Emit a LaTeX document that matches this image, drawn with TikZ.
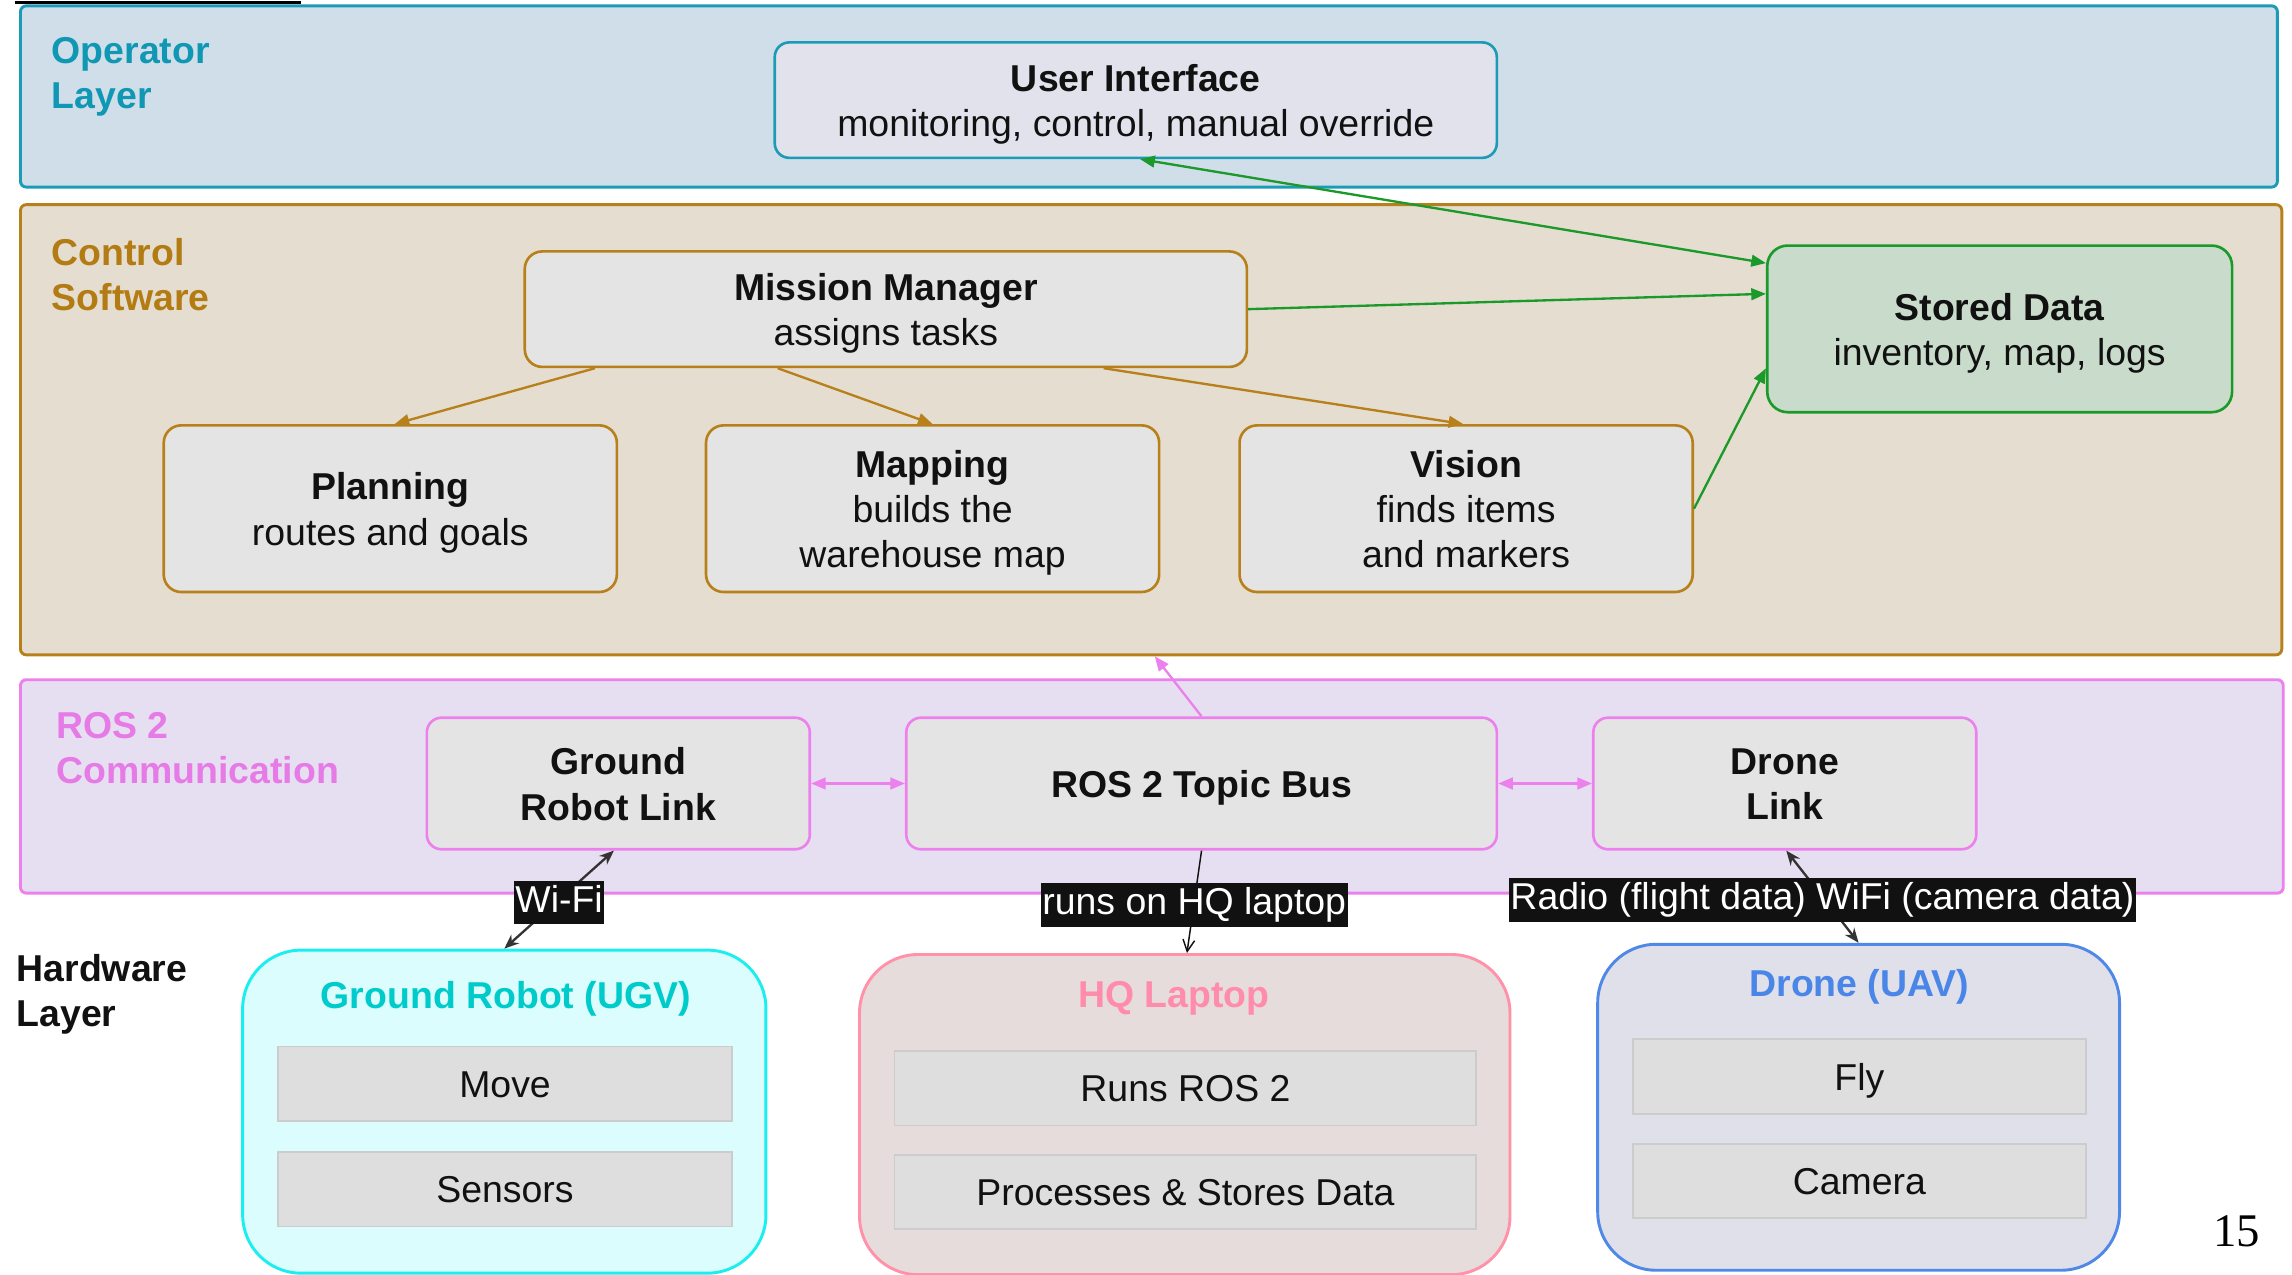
\documentclass[tikz,border=0pt]{standalone}
\usepackage{fontspec}
\setmainfont{Liberation Sans}
\newfontfamily\pnfont{Liberation Serif}
\usetikzlibrary{arrows.meta,calc}
\definecolor{opfill}{HTML}{D0DEEA}
\definecolor{opdraw}{HTML}{1B9BB6}
\definecolor{optext}{HTML}{1097B3}
\definecolor{uifill}{HTML}{E2E2EC}
\definecolor{ctfill}{HTML}{E5DDD0}
\definecolor{ctdraw}{HTML}{B8801A}
\definecolor{cttext}{HTML}{B27C13}
\definecolor{boxgray}{HTML}{E4E4E4}
\definecolor{stfill}{HTML}{C9DCCB}
\definecolor{stdraw}{HTML}{1B9A2B}
\definecolor{rsfill}{HTML}{E6DFF1}
\definecolor{rsdraw}{HTML}{EC80EC}
\definecolor{rstext}{HTML}{E67AE6}
\definecolor{ugvfill}{HTML}{DCFDFD}
\definecolor{ugvdraw}{HTML}{1AEEEE}
\definecolor{ugvtext}{HTML}{00CBCB}
\definecolor{hqfill}{HTML}{E6DCDC}
\definecolor{hqdraw}{HTML}{FF91A8}
\definecolor{hqtext}{HTML}{FF8CAA}
\definecolor{uavfill}{HTML}{DFE0EA}
\definecolor{uavdraw}{HTML}{4F88E6}
\definecolor{uavtext}{HTML}{4A86E8}
\definecolor{subfill}{HTML}{DEDEDE}
\definecolor{subdraw}{HTML}{CCCCCC}
\definecolor{ink}{HTML}{111111}
\definecolor{linkgray}{HTML}{333333}
\begin{document}
\begin{tikzpicture}[x=0.5pt,y=-0.5pt,
  font=\fontsize{12.8}{15.5}\selectfont, text=ink,
  layer/.style={draw, rounded corners=2pt, line width=1pt, inner sep=0pt},
  cbox/.style={draw, rounded corners=6pt, line width=0.9pt, fill=boxgray, inner sep=0pt},
  tx/.style={label={[align=center, inner sep=0pt, text=ink, text depth=2.8pt, yshift=-1.5pt, font=\fontsize{12.8}{15.5}\selectfont]center:#1}},
  btx/.style={label={[align=center, inner sep=0pt, text=ink, text depth=2.8pt, yshift=-1.5pt, font=\fontsize{12.8}{15.5}\selectfont\bfseries]center:#1}},
  subbox/.style={draw=subdraw, fill=subfill, line width=0.6pt, inner sep=0pt, minimum height=25.5pt, text height=12pt, text depth=2.8pt},
  hwbox/.style={draw, rounded corners=20pt, line width=1pt, inner sep=0pt},
  laylbl/.style={font=\fontsize{12.8}{15.5}\selectfont\bfseries, align=left, anchor=west, inner sep=0pt, text depth=2.8pt},
  hwtitle/.style={font=\fontsize{12.8}{15.5}\selectfont\bfseries, inner sep=0pt},
  edgelbl/.style={fill=ink, text=white, inner xsep=0.5pt, inner ysep=1.3pt, text height=9.6pt, text depth=2.8pt, yshift=-1pt},
  arr/.style={-{Triangle[length=5pt,width=4pt]}, line width=0.8pt},
  darr/.style={{Triangle[length=5pt,width=4pt]}-{Triangle[length=5pt,width=4pt]}, line width=0.8pt},
  hlink/.style={{Stealth[length=5pt,width=4pt]}-{Stealth[length=5pt,width=4pt]}, line width=0.8pt, draw=linkgray}
]
\useasboundingbox (0,0) rectangle (1568,872);
\draw[line width=1pt] (10,2) -- (206,2);

% layers
\node[layer, draw=opdraw, fill=opfill, minimum width=772pt, minimum height=62pt] (op) at (786,66) {};
\node[layer, draw=ctdraw, fill=ctfill, minimum width=773.5pt, minimum height=154pt] (ctrl) at (787.5,294) {};
\node[layer, draw=rsdraw, fill=rsfill, minimum width=774pt, minimum height=73pt] (ros) at (788,538) {};

\node[laylbl, text=optext] (oplbl) at (35,52.5) {Operator\\Layer};
\node[laylbl, text=cttext] (ctlbl) at (35,190.5) {Control\\Software};
\node[laylbl, text=rstext] (rslbl) at (38,514.5) {ROS 2\\Communication};
\node[laylbl, text=ink] (hwlbl) at (11,680.5) {Hardware\\Layer};

% operator
\node[cbox, draw=opdraw, fill=uifill, rounded corners=5pt, minimum width=247pt, minimum height=39.5pt,
  btx={User Interface\\\mdseries monitoring, control, manual override}] (ui) at (777,68.5) {};

% control
\node[cbox, draw=ctdraw, minimum width=247pt, minimum height=39.5pt,
  btx={Mission Manager\\\mdseries assigns tasks}] (mm) at (606,211.5) {};
\node[cbox, draw=ctdraw, minimum width=155pt, minimum height=57pt,
  btx={Planning\\\mdseries routes and goals}] (plan) at (267,348) {};
\node[cbox, draw=ctdraw, minimum width=155pt, minimum height=57pt,
  btx={Mapping\\\mdseries builds the\\\mdseries warehouse map}] (map) at (638,348) {};
\node[cbox, draw=ctdraw, minimum width=155pt, minimum height=57pt,
  btx={Vision\\\mdseries finds items\\\mdseries and markers}] (vis) at (1003,348) {};
\node[cbox, draw=stdraw, fill=stfill, rounded corners=7pt, minimum width=159pt, minimum height=57pt,
  btx={Stored Data\\\mdseries inventory, map, logs}] (stored) at (1368,225) {};

% ros
\node[cbox, draw=rsdraw, rounded corners=5pt, minimum width=131pt, minimum height=45pt,
  btx={Ground\\Robot Link}] (grl) at (423,536) {};
\node[cbox, draw=rsdraw, rounded corners=5pt, minimum width=202pt, minimum height=45pt,
  btx={ROS 2 Topic Bus}] (bus) at (822,536) {};
\node[cbox, draw=rsdraw, rounded corners=5pt, minimum width=131pt, minimum height=45pt,
  btx={Drone\\Link}] (dl) at (1221,536) {};

% hardware
\node[hwbox, draw=ugvdraw, fill=ugvfill, minimum width=179pt, minimum height=110.5pt] (ugv) at (345,760.5) {};
\node[hwbox, draw=hqdraw, fill=hqfill, minimum width=222.5pt, minimum height=109.5pt] (hq) at (810.5,762.5) {};
\node[hwbox, draw=uavdraw, fill=uavfill, minimum width=178.5pt, minimum height=111.5pt] (uav) at (1271.5,757.5) {};

\node[hwtitle, text=ugvtext] (ugvt) at (346,683) {Ground Robot (UGV)};
\node[hwtitle, text=hqtext] (hqt) at (803,683) {HQ Laptop};
\node[hwtitle, text=uavtext] (uavt) at (1272,675) {Drone (UAV)};

\node[subbox, minimum width=155.5pt] (move) at (345.5,741.5) {Move};
\node[subbox, minimum width=155.5pt] (sens) at (345.5,813.5) {Sensors};
\node[subbox, minimum width=199pt] (runs) at (811,744.5) {Runs ROS 2};
\node[subbox, minimum width=199pt] (proc) at (811,815.5) {Processes \& Stores Data};
\node[subbox, minimum width=155pt] (fly) at (1272,736.5) {Fly};
\node[subbox, minimum width=155pt] (cam) at (1272,808) {Camera};

\node[font=\pnfont\fontsize{16}{18}\selectfont, text=black, inner sep=0pt] (pg) at (1530,842) {15};

% control arrows
\draw[arr, draw=ctdraw] ($(mm.south)+(-199,0)$) -- ($(plan.north)+(3,0)$);
\draw[arr, draw=ctdraw] ($(mm.south)+(-74,0)$) -- (map.north);
\draw[arr, draw=ctdraw] ($(mm.south)+(149,0)$) -- ($(vis.north)+(-2,0)$);
\draw[arr, draw=stdraw] (mm.east) -- ($(stored.west)+(0,-24)$);
\draw[darr, draw=stdraw] ($(ui.south)+(3,0)$) -- ($(stored.west)+(0,-45)$);
\draw[arr, draw=stdraw] (vis.east) -- ($(stored.west)+(0,27)$);

% ros arrows
\draw[darr, draw=rsdraw] (grl.east) -- (bus.west);
\draw[darr, draw=rsdraw] (bus.east) -- (dl.west);
\draw[arr, draw=rsdraw] (bus.north) -- ($(ctrl.south)+(2.5,0)$);

% hardware links
\draw[hlink] ($(grl.south)+(-3,0)$) -- node[edgelbl] {Wi-Fi} (ugv.north);
\draw[-{Straight Barb[length=4pt,width=4pt]}, line width=0.5pt, draw=ink] (bus.south) -- node[edgelbl] {runs on HQ laptop} ($(hq.north)+(1.5,0)$);
\draw[hlink] ($(dl.south)+(1,0)$) -- node[edgelbl] {Radio (flight data) WiFi (camera data)} (uav.north);
\end{tikzpicture}
\end{document}
